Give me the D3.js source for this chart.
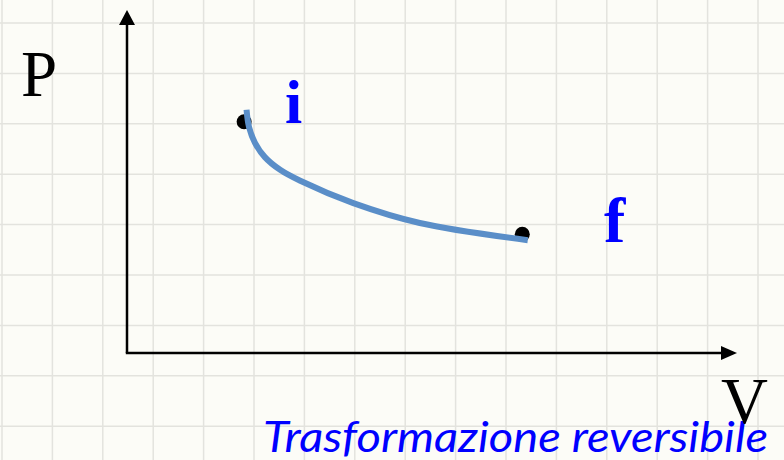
<!DOCTYPE html>
<html>
<head>
<meta charset="utf-8">
<script src="https://cdn.jsdelivr.net/npm/d3@7"></script>
<style>
  html, body { margin: 0; padding: 0; background: #fcfcf7; }
  svg { display: block; }
</style>
</head>
<body>
<div id="chart"></div>
<script>
// curve points (V, P in arbitrary units 0..100)
var curveV = [19.6, 20.0, 21.0, 22.6, 25.1, 28.4, 37.1, 48.0, 65.7];
var curveP = [70.9, 65.9, 61.2, 57.1, 53.4, 50.2, 43.7, 37.9, 32.9];

// initial and final states
var stateNames = ["i", "f"];
var stateV = [19.2, 64.8];
var stateP = [67.4, 34.6];

var axisNames = ["P", "V"];
var caption = "Trasformazione reversibile";

var width = 784, height = 460;

var svg = d3.select("#chart")
    .append("svg")
    .attr("width", width)
    .attr("height", height);

svg.append("rect")
    .attr("width", width)
    .attr("height", height)
    .attr("fill", "#fcfcf7");

// squared paper background
var step = 50.4;
var grid = svg.append("g")
    .attr("stroke", "#e3e3de")
    .attr("stroke-width", 1.5);

grid.selectAll(".gx")
    .data(d3.range(2, width, step))
    .enter()
    .append("line")
    .attr("x1", d => d).attr("x2", d => d)
    .attr("y1", 0).attr("y2", height);

grid.selectAll(".gy")
    .data(d3.range(23, height, step))
    .enter()
    .append("line")
    .attr("y1", d => d).attr("y2", d => d)
    .attr("x1", 0).attr("x2", width);

var x = d3.scaleLinear().domain([0, 100]).range([127, 737]);
var y = d3.scaleLinear().domain([0, 100]).range([353, 10]);

// axes with arrow heads
var axes = svg.append("g");

axes.append("line")
    .attr("x1", x(0)).attr("y1", y(0))
    .attr("x2", x(0)).attr("y2", y(100) + 12)
    .attr("stroke", "#000")
    .attr("stroke-width", 2.5);

axes.append("line")
    .attr("x1", x(0) - 1.2).attr("y1", y(0))
    .attr("x2", x(100) - 12).attr("y2", y(0))
    .attr("stroke", "#000")
    .attr("stroke-width", 2.5);

axes.append("path")
    .attr("d", "M" + x(0) + "," + y(100) + " l-8,15 l16,0 Z")
    .attr("fill", "#000");

axes.append("path")
    .attr("d", "M" + x(100) + "," + y(0) + " l-16,-7 l0,14 Z")
    .attr("fill", "#000");

// state points
svg.selectAll(".state")
    .data(stateNames)
    .enter()
    .append("circle")
    .attr("cx", (d, i) => x(stateV[i]))
    .attr("cy", (d, i) => y(stateP[i]))
    .attr("r", 7.5)
    .attr("fill", "#000");

// the reversible path
var pts = curveV.map((v, i) => [v, curveP[i]]);
var line = d3.line()
    .x(d => x(d[0]))
    .y(d => y(d[1]))
    .curve(d3.curveCatmullRom.alpha(0.5));

svg.append("path")
    .datum(pts)
    .attr("d", line)
    .attr("fill", "none")
    .attr("stroke", "#5a8ec8")
    .attr("stroke-width", 6);

// state labels
svg.append("text")
    .attr("x", 285).attr("y", 123)
    .attr("font-family", "Liberation Serif, serif")
    .attr("font-weight", "bold")
    .attr("font-size", 62)
    .attr("fill", "#0000ff")
    .text(stateNames[0]);

svg.append("text")
    .attr("x", 604).attr("y", 242)
    .attr("font-family", "Liberation Serif, serif")
    .attr("font-weight", "bold")
    .attr("font-size", 64)
    .attr("fill", "#0000ff")
    .text(stateNames[1]);

// caption
svg.append("text")
    .attr("x", 263).attr("y", 452)
    .attr("font-family", "Lato, sans-serif")
    .attr("font-style", "italic")
    .attr("font-size", 43)
    .attr("fill", "#0000ff")
    .attr("textLength", 505)
    .attr("lengthAdjust", "spacingAndGlyphs")
    .text(caption);

// axis names
svg.append("text")
    .attr("x", 21).attr("y", 96)
    .attr("font-family", "Liberation Serif, serif")
    .attr("font-size", 65)
    .attr("fill", "#000")
    .text(axisNames[0]);

svg.append("text")
    .attr("x", 721).attr("y", 423)
    .attr("font-family", "Liberation Serif, serif")
    .attr("font-size", 65)
    .attr("fill", "#000")
    .text(axisNames[1]);
</script>
</body>
</html>
